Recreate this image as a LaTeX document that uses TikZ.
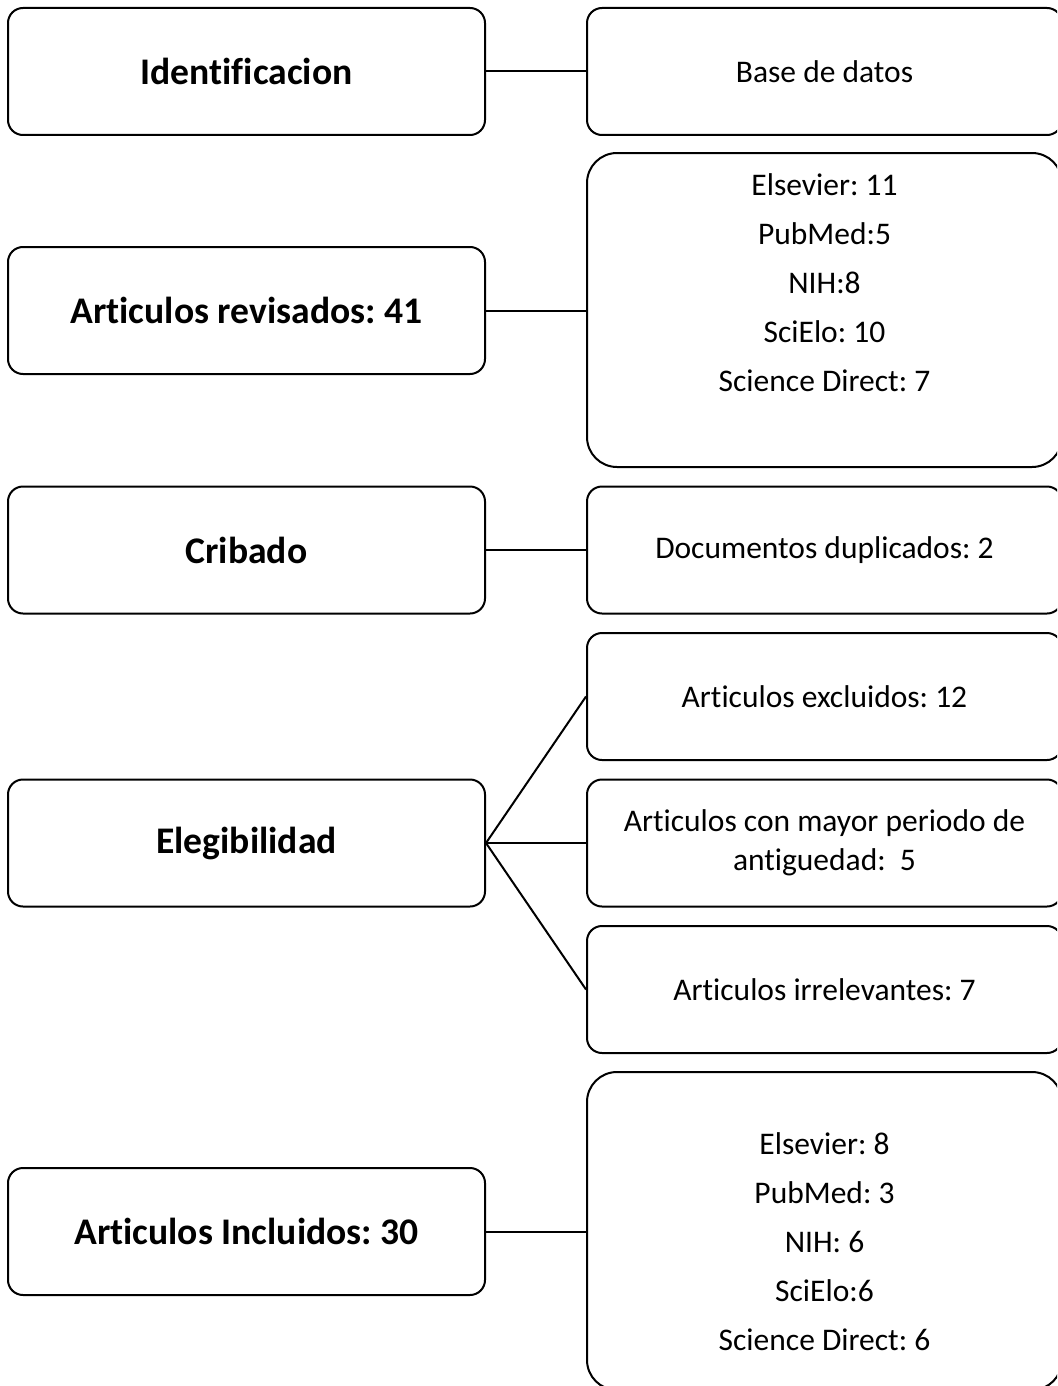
\documentclass[tikz,border=0pt]{standalone}
\usepackage{fontspec}
\setmainfont{Carlito}[RawFeature={-liga;-clig;-calt;-dlig}]
\begin{document}
\frenchspacing
\begin{tikzpicture}[x=1pt,y=-1pt,
  box/.style={draw,line width=2pt,rounded corners=15pt,minimum width=477pt,minimum height=127pt,inner sep=0pt,anchor=center},
  bigbox/.style={draw,line width=2pt,rounded corners=30pt,inner sep=0pt},
  lbl/.style={font=\fontsize{37.6}{46}\selectfont\bfseries\frenchspacing,align=center},
  rlbl/.style={font=\fontsize{31.5}{39}\selectfont\frenchspacing,align=center},
  list/.style={font=\fontsize{31.5}{49}\selectfont\frenchspacing,align=center,anchor=north},
  conn/.style={line width=2pt}]
\clip (0,0) rectangle (1057,1386);
% left column
\node[box,lbl] (ident) at (246.5,71.5) {Identificacion};
\node[box,lbl] (rev) at (246.5,310.5) {Articulos revisados: 41};
\node[box,lbl] (crib) at (246.5,550) {Cribado};
\node[box,lbl] (eleg) at (246.5,843) {Elegibilidad};
\node[box,lbl] (incl) at (246.5,1231.5) {Articulos Incluidos: 30};
% right column
\node[box,rlbl,minimum width=475pt] (bd) at (824.5,71.5) {Base de datos};
\node[bigbox,minimum width=475pt,minimum height=314pt] (src1) at (824.5,310) {};
\node[list] (src1t) at (824.5,170) {Elsevier: 11\\PubMed:5\\NIH:8\\SciElo: 10\\Science Direct: 7};
\node[box,rlbl,minimum width=475pt] (dup) at (824.5,550) {Documentos duplicados: 2};
\node[box,rlbl,minimum width=475pt] (exc) at (824.5,696.5) {Articulos excluidos: 12};
\node[box,rlbl,minimum width=475pt] (may) at (824.5,843) {Articulos con mayor periodo de\\antiguedad:\ \ 5};
\node[box,rlbl,minimum width=475pt] (irr) at (824.5,989.5) {Articulos irrelevantes: 7};
\node[bigbox,minimum width=475pt,minimum height=318pt] (src2) at (824.5,1231) {};
\node[list] (src2t) at (824.5,1129) {Elsevier: 8\\PubMed: 3\\NIH: 6\\SciElo:6\\Science Direct: 6};
% connectors
\draw[conn] (ident.east) -- (bd.west);
\draw[conn] (rev.east) -- (rev.east -| src1.west);
\draw[conn] (crib.east) -- (dup.west);
\draw[conn] (eleg.east) -- (exc.west);
\draw[conn] (eleg.east) -- (may.west);
\draw[conn] (eleg.east) -- (irr.west);
\draw[conn] (incl.east) -- (incl.east -| src2.west);
\end{tikzpicture}
\end{document}
